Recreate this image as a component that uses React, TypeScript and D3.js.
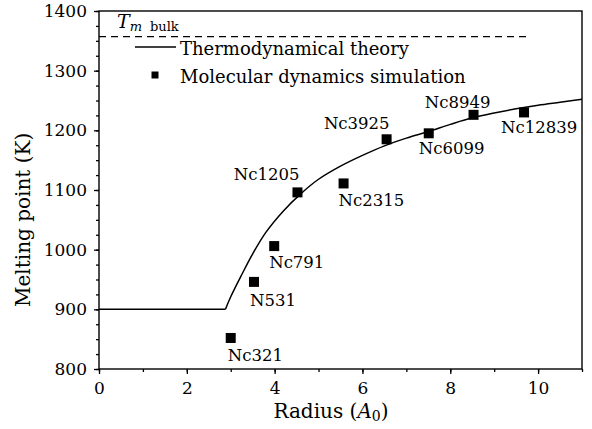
import React, { useEffect, useRef } from 'react';
import * as d3 from 'd3';

// flat part of the theory curve (below the critical radius)
const flatRadius = [0, 2.88];
const flatTemp = [900, 900];

// rising branch of the thermodynamical theory
const theoryRadius = [2.88, 3.0, 3.25, 3.5, 3.8, 4.2, 4.6, 5.0, 5.5, 6.0, 6.5, 7.0, 7.5, 8.0, 8.5, 9.0, 9.5, 10.0, 10.5, 11.0];
const theoryTemp = [900, 921, 958, 993, 1029, 1065, 1094, 1118, 1140, 1158, 1174, 1187, 1198, 1210, 1221, 1229, 1236, 1242, 1247, 1252];

// molecular dynamics points
const mdLabels = ['Nc321', 'N531', 'Nc791', 'Nc1205', 'Nc2315', 'Nc3925', 'Nc6099', 'Nc8949', 'Nc12839'];
const mdRadius = [3.0, 3.53, 3.99, 4.52, 5.57, 6.55, 7.51, 8.53, 9.68];
const mdTemp = [852, 946, 1006, 1096, 1111, 1185, 1195, 1226, 1230];

// bulk melting point (dashed line)
const bulkTemp = 1357;
const bulkRadius = [0, 9.8];

const xTicks = [0, 2, 4, 6, 8, 10];
const yTicks = [800, 900, 1000, 1100, 1200, 1300, 1400];

// where each point label sits: anchor, dx, dy
const labelPlace: [string, number, number][] = [
  ['start', -3, 23],
  ['start', -4, 24],
  ['start', -5, 22],
  ['end', 2, -12],
  ['start', -5, 23],
  ['end', 3, -10],
  ['start', -10, 21],
  ['end', 17, -7],
  ['start', -23, 21],
];

const W = 592;
const H = 429;
const FONT = '"DejaVu Serif", "Liberation Serif", serif';

const App = () => {
  const ref = useRef<SVGSVGElement>(null);

  useEffect(() => {
    const svg = d3.select(ref.current);
    svg.selectAll('*').remove();

    const m = { left: 99, right: 10, top: 11, bottom: 60 };
    const x = d3.scaleLinear().domain([0, 11]).range([m.left, W - m.right]);
    const y = d3.scaleLinear().domain([800, 1400]).range([H - m.bottom, m.top]);

    // minor ticks
    svg.append('g')
      .attr('transform', `translate(0,${y(800)})`)
      .call(d3.axisBottom(x).tickValues(d3.range(0, 12, 1)).tickSize(3).tickSizeOuter(0).tickFormat(() => ''))
      .call(g => g.select('.domain').remove());
    svg.append('g')
      .attr('transform', `translate(${x(0)},0)`)
      .call(d3.axisLeft(y).tickValues(d3.range(800, 1401, 25)).tickSize(3).tickSizeOuter(0).tickFormat(() => ''))
      .call(g => g.select('.domain').remove());

    // major ticks + labels
    const xAxis = svg.append('g')
      .attr('transform', `translate(0,${y(800)})`)
      .call(d3.axisBottom(x).tickValues(xTicks).tickSize(5).tickSizeOuter(0).tickFormat(d3.format('d')));
    xAxis.select('.domain').remove();
    xAxis.selectAll('text')
      .attr('y', 13)
      .style('font-family', FONT)
      .style('font-size', '17px')
      .attr('fill', '#000');

    const yAxis = svg.append('g')
      .attr('transform', `translate(${x(0)},0)`)
      .call(d3.axisLeft(y).tickValues(yTicks).tickSize(5).tickSizeOuter(0).tickFormat(d3.format('d')));
    yAxis.select('.domain').remove();
    yAxis.selectAll('text')
      .attr('x', -12)
      .style('font-family', FONT)
      .style('font-size', '17px')
      .attr('fill', '#000');

    svg.selectAll('.tick line').attr('stroke', '#000').attr('stroke-width', 1.3);

    // frame
    svg.append('rect')
      .attr('x', x(0))
      .attr('y', y(1400))
      .attr('width', x(11) - x(0))
      .attr('height', y(800) - y(1400))
      .attr('fill', 'none')
      .attr('stroke', '#000')
      .attr('stroke-width', 1.4);

    // bulk line
    svg.append('line')
      .attr('x1', x(bulkRadius[0]))
      .attr('x2', x(bulkRadius[1]))
      .attr('y1', y(bulkTemp))
      .attr('y2', y(bulkTemp))
      .attr('stroke', '#000')
      .attr('stroke-width', 1.2)
      .attr('stroke-dasharray', '7,5');

    const tm = svg.append('text')
      .attr('x', 117)
      .attr('y', 28)
      .style('font-family', FONT)
      .style('font-size', '19px');
    tm.append('tspan').style('font-style', 'italic').text('T');
    tm.append('tspan').attr('dy', 3).style('font-size', '13px').style('font-style', 'italic').text('m');
    tm.append('tspan').attr('dx', 8).style('font-size', '13px').text('bulk');

    // theory curve
    const line = d3.line<number>()
      .x(i => x(flatRadius[i]))
      .y(i => y(flatTemp[i]));
    svg.append('path')
      .attr('d', line(d3.range(flatRadius.length)))
      .attr('fill', 'none')
      .attr('stroke', '#000')
      .attr('stroke-width', 1.5);

    const curve = d3.line<number>()
      .x(i => x(theoryRadius[i]))
      .y(i => y(theoryTemp[i]))
      .curve(d3.curveCatmullRom.alpha(0.5));
    svg.append('path')
      .attr('d', curve(d3.range(theoryRadius.length)))
      .attr('fill', 'none')
      .attr('stroke', '#000')
      .attr('stroke-width', 1.5);

    // MD points
    const s = 10;
    const pts = svg.append('g');
    mdRadius.forEach((r, i) => {
      const px = x(r);
      const py = y(mdTemp[i]);
      pts.append('rect')
        .attr('x', px - s / 2)
        .attr('y', py - s / 2)
        .attr('width', s)
        .attr('height', s)
        .attr('fill', '#000');
      const [anchor, dx, dy] = labelPlace[i];
      pts.append('text')
        .attr('x', px + dx)
        .attr('y', py + dy)
        .attr('text-anchor', anchor)
        .style('font-family', FONT)
        .style('font-size', '16.5px')
        .text(mdLabels[i]);
    });

    // legend
    svg.append('line')
      .attr('x1', 135).attr('x2', 176)
      .attr('y1', 47).attr('y2', 47)
      .attr('stroke', '#000')
      .attr('stroke-width', 1.5);
    svg.append('text')
      .attr('x', 180).attr('y', 55)
      .style('font-family', FONT)
      .style('font-size', '18px')
      .text('Thermodynamical theory');
    svg.append('rect')
      .attr('x', 151.5).attr('y', 71.5)
      .attr('width', 7).attr('height', 7)
      .attr('fill', '#000');
    svg.append('text')
      .attr('x', 180).attr('y', 83)
      .style('font-family', FONT)
      .style('font-size', '18px')
      .text('Molecular dynamics simulation');

    // axis titles
    const xt = svg.append('text')
      .attr('x', 331).attr('y', 418)
      .attr('text-anchor', 'middle')
      .style('font-family', FONT)
      .style('font-size', '20px');
    xt.append('tspan').text('Radius (');
    xt.append('tspan').style('font-style', 'italic').text('A');
    xt.append('tspan').attr('dy', 3).style('font-size', '14px').text('0');
    xt.append('tspan').attr('dy', -3).text(')');

    svg.append('text')
      .attr('transform', 'translate(30,307) rotate(-90)')
      .attr('text-anchor', 'start')
      .style('font-family', FONT)
      .style('font-size', '20px')
      .text('Melting point (K)');
  }, []);

  return (
    <div style={{ position: 'absolute', left: 0, top: 0 }}>
      <svg ref={ref} width={W} height={H} style={{ display: 'block', background: '#fff' }} />
    </div>
  );
};

export default App;
